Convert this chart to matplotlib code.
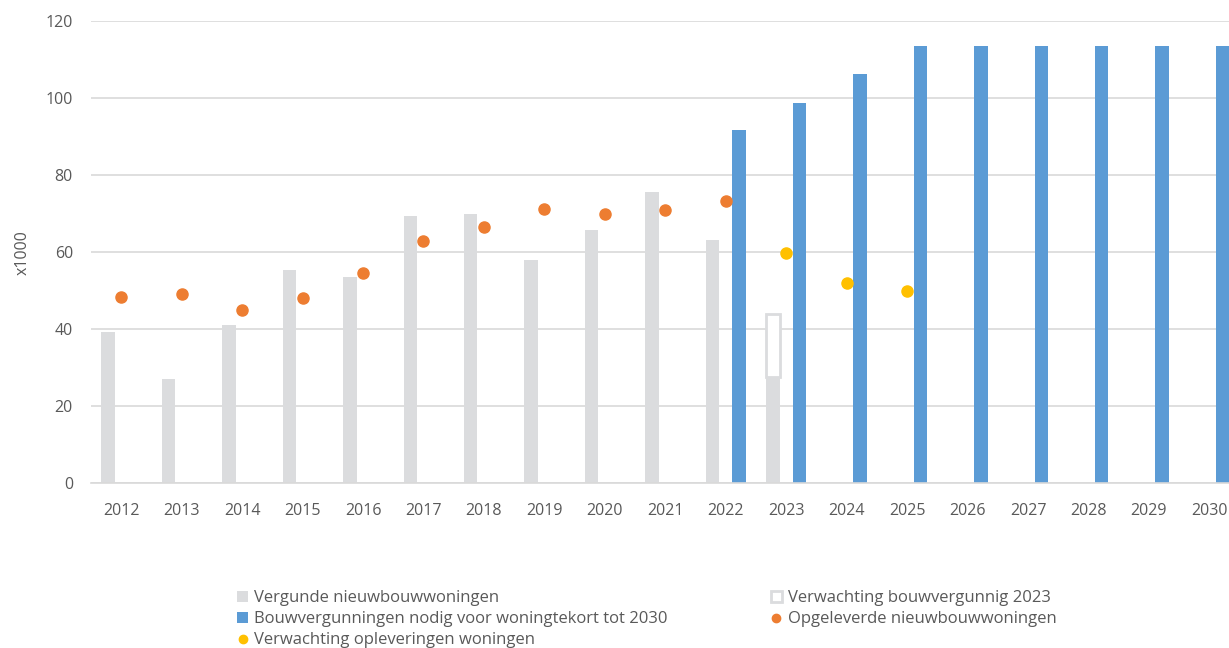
import numpy as np
import matplotlib.pyplot as plt
from matplotlib.patches import Patch
from matplotlib.lines import Line2D

plt.rcParams['font.family'] = ['Open Sans', 'DejaVu Sans']

years = ['2012', '2013', '2014', '2015', '2016', '2017', '2018', '2019', '2020', '2021',
         '2022', '2023', '2024', '2025', '2026', '2027', '2028', '2029', '2030']

# vergunde nieuwbouwwoningen (x1000)
vergund = [39.2, 27.1, 41.1, 55.4, 53.5, 69.5, 69.9, 58.0, 65.8, 75.6, 63.2, 27.6,
           np.nan, np.nan, np.nan, np.nan, np.nan, np.nan, np.nan]
# verwachting bouwvergunning 2023 (stacked on top of vergund)
verwacht_verg = [np.nan]*11 + [16.3] + [np.nan]*7
# bouwvergunningen nodig voor woningtekort
nodig = [np.nan]*10 + [91.8, 98.8, 106.3, 113.6, 113.6, 113.6, 113.6, 113.6, 113.6]
# opgeleverde nieuwbouwwoningen
opgeleverd = [48.5, 49.2, 45.0, 48.2, 54.5, 62.9, 66.5, 71.2, 69.9, 71.0, 73.3] + [np.nan]*8
# verwachting opleveringen
verwacht_opl = [np.nan]*11 + [59.7, 51.9, 49.9] + [np.nan]*5

grey = '#DBDCDE'
blue = '#5B9BD5'
orange = '#ED7D31'
yellow = '#FFC000'
txt = '#595959'

fig = plt.figure(figsize=(12.29, 6.48), dpi=100)
ax = fig.add_axes([91/1229, (648-483.3)/648, 1148.6/1229, 462/648])

x = np.arange(len(years))
w = 0.222
off = 0.219

ax.bar(x - off, vergund, width=w, color=grey, zorder=2)
ax.bar(x - off, verwacht_verg, width=w, bottom=vergund, facecolor='white',
       edgecolor=grey, linewidth=2, zorder=2)
ax.bar(x + off, nodig, width=w, color=blue, zorder=2)
ax.plot(x, opgeleverd, 'o', color=orange, markersize=8, zorder=3)
ax.plot(x, verwacht_opl, 'o', color=yellow, markersize=8, zorder=3)

ax.set_xlim(-0.5, len(years) - 0.5)
ax.set_ylim(0, 120)
ax.set_yticks(range(0, 121, 20))
ax.set_xticks(x)
ax.set_xticklabels(years)
ax.grid(axis='y', color='#D9D9D9', linewidth=1.2, zorder=0)
ax.set_axisbelow(True)
for s in ['top', 'right', 'left']:
    ax.spines[s].set_visible(False)
ax.spines['bottom'].set_color('#D9D9D9')
ax.spines['bottom'].set_linewidth(1.2)
ax.tick_params(axis='both', length=0, labelsize=11.5, labelcolor=txt)
ax.tick_params(axis='x', pad=14)
ax.tick_params(axis='y', pad=13)
ax.set_ylabel('x1000', fontsize=11.5, color=txt, labelpad=11)

handles = [
    Patch(facecolor=grey, edgecolor='none'),
    Patch(facecolor=blue, edgecolor='none'),
    Line2D([], [], marker='o', color=yellow, linestyle='none', markersize=6),
    Patch(facecolor='white', edgecolor=grey, linewidth=2),
    Line2D([], [], marker='o', color=orange, linestyle='none', markersize=6),
]
labels = [
    'Vergunde nieuwbouwwoningen',
    'Bouwvergunningen nodig voor woningtekort tot 2030',
    'Verwachting opleveringen woningen',
    'Verwachting bouwvergunnig 2023',
    'Opgeleverde nieuwbouwwoningen',
]
leg = fig.legend(handles, labels, loc='upper left', bbox_to_anchor=(229/1229, 1 - 582/648),
                 ncol=2, frameon=False, fontsize=12, handlelength=0.65, handleheight=0.65,
                 handletextpad=0.35, columnspacing=6.2, labelspacing=0.3, borderpad=0)
for t in leg.get_texts():
    t.set_color(txt)

fig.savefig('out.png', dpi=100)
